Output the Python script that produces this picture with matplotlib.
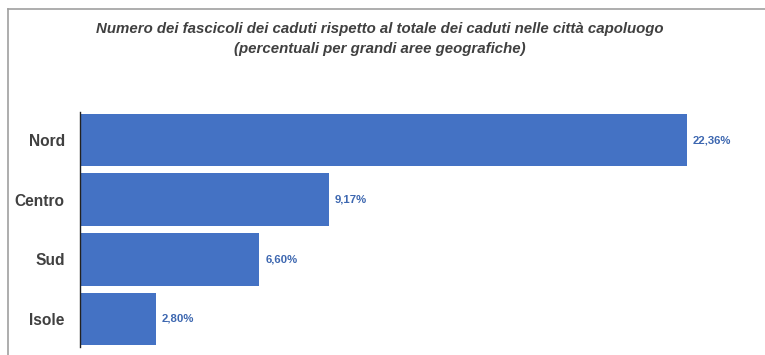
import matplotlib.pyplot as plt
from matplotlib.lines import Line2D

aree = ["Nord", "Centro", "Sud", "Isole"]
percentuali = [22.36, 9.17, 6.60, 2.80]
etichette = ["22,36%", "9,17%", "6,60%", "2,80%"]

BLU = "#4472C4"
GRIGIO = "#404040"

fig = plt.figure(figsize=(7.65, 3.55), dpi=100)
fig.patch.set_facecolor("white")

# cornice grigia in alto e a sinistra
fig.add_artist(Line2D([8/765, 8/765], [0, 1 - 9/355], color="#a0a0a0", lw=1.2))
fig.add_artist(Line2D([8/765, 1], [1 - 9/355, 1 - 9/355], color="#a0a0a0", lw=1.2))

fig.text(0.497, 1 - 29/355, "Numero dei fascicoli dei caduti rispetto al totale dei caduti nelle città capoluogo",
         ha="center", va="center", fontsize=10.8, style="italic", fontweight="bold",
         color=GRIGIO, family="Liberation Sans")
fig.text(0.497, 1 - 49/355, "(percentuali per grandi aree geografiche)",
         ha="center", va="center", fontsize=10.8, style="italic", fontweight="bold",
         color=GRIGIO, family="Liberation Sans")

ax = fig.add_axes([80/765, 8/355, (757 - 80)/765, (347 - 112)/355])
pos = range(len(aree))
ax.barh(pos, percentuali, height=0.88, color=BLU)
for p, v, t in zip(pos, percentuali, etichette):
    ax.text(v + 0.22, p, t, va="center", ha="left", fontsize=8.2, fontweight="bold",
            color="#3d67b0", family="Liberation Sans")

ax.set_xlim(0, 677/27.15)
ax.set_ylim(3.47, -0.47)
ax.set_yticks(list(pos))
ax.set_yticklabels(aree, fontsize=11.2, fontweight="bold", color=GRIGIO, family="Liberation Sans")
ax.tick_params(axis="y", length=0, pad=11)
ax.set_xticks([])
for s in ["top", "right", "bottom"]:
    ax.spines[s].set_visible(False)
ax.spines["left"].set_color("#222222")
ax.spines["left"].set_linewidth(1.0)

fig.savefig("out.png", dpi=100)
